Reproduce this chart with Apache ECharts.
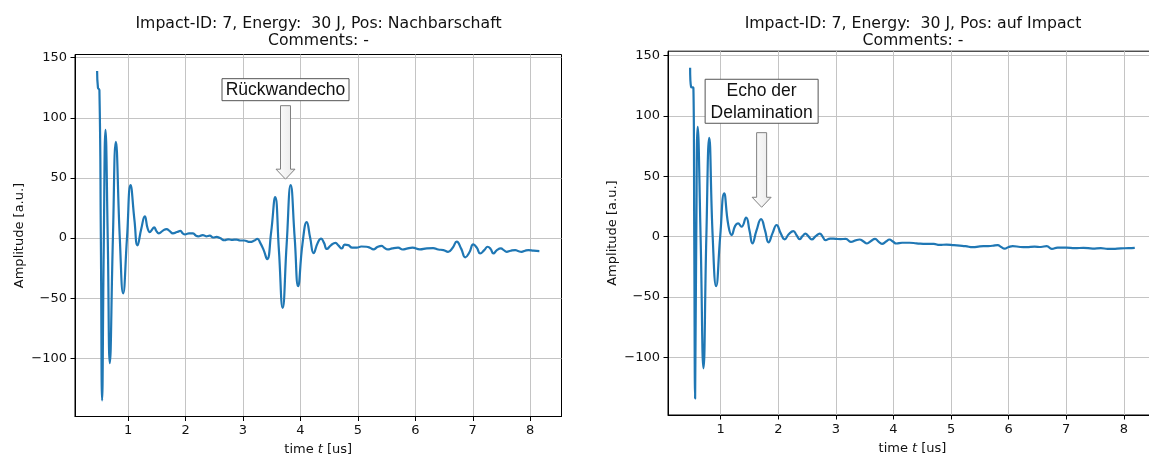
<!DOCTYPE html>
<html><head><meta charset="utf-8">
<script src="https://cdn.jsdelivr.net/npm/echarts@6/dist/echarts.min.js"></script>
<style>html,body{margin:0;padding:0;background:#fff;}#c{width:1149px;height:459px;}</style>
</head><body><div id="c"></div>
<script>
// ---- data ----
const timeLeft = [0.46,0.475,0.5,0.525,0.547,0.575,0.606,0.645,0.681,0.735,0.786,0.855,0.913,0.98,1.042,1.11,1.163,1.23,1.29,1.34,1.378,1.415,1.453,1.49,1.535,1.6,1.67,1.72,1.78,1.85,1.91,1.95,1.99,2.06,2.13,2.18,2.22,2.3,2.36,2.42,2.48,2.54,2.6,2.68,2.74,2.8,2.89,2.95,3.02,3.12,3.2,3.25,3.3,3.36,3.42,3.49,3.56,3.625,3.69,3.76,3.83,3.9,3.96,4.035,4.11,4.17,4.23,4.3,4.36,4.41,4.46,4.53,4.61,4.66,4.72,4.77,4.83,4.9,4.98,5.06,5.15,5.21,5.27,5.34,5.41,5.46,5.52,5.6,5.7,5.78,5.85,5.95,6.08,6.2,6.31,6.4,6.49,6.57,6.65,6.72,6.8,6.87,6.94,7.01,7.07,7.13,7.2,7.26,7.31,7.36,7.42,7.49,7.54,7.59,7.66,7.74,7.8,7.85,7.91,7.97,8.06,8.16];
const ampLeft = [139,125,123,0,-135,-10,90,0,-104,0,80,0,-46,0,44,15,-6,8,18,8,5,7,9,6,4,6,7.5,6,3.9,5,6,4,3,4,4,2,1.4,2.5,1.5,2,0.5,1,0,-1.8,-1,-1.5,-1.2,-2,-2,-3.2,-2,-0.6,-4,-10,-17.5,5,34,-10,-58,-5,44,0,-40,-5,13.3,0,-12.5,-4,-0.5,-4,-9,-6,-4,-6,-8.6,-5.5,-5.8,-8,-8,-7,-7.2,-8,-9.4,-7.5,-6.4,-8,-9.4,-8.5,-8,-9.5,-8.8,-8,-9.4,-8.5,-8.3,-9.5,-10,-11.4,-8,-3,-9,-16,-12,-5.3,-8,-12.8,-10,-7.2,-9,-12.8,-10,-8.6,-10,-11.4,-10.5,-10,-11,-11.4,-10.5,-10,-10.5,-10.8];
const timeRight = [0.468,0.485,0.525,0.54,0.555,0.575,0.6,0.65,0.7,0.75,0.8,0.86,0.92,0.99,1.06,1.13,1.19,1.25,1.3,1.36,1.44,1.5,1.55,1.62,1.7,1.77,1.83,1.9,1.97,2.04,2.11,2.18,2.26,2.32,2.37,2.42,2.47,2.52,2.58,2.65,2.72,2.77,2.82,2.9,3.0,3.08,3.17,3.26,3.34,3.41,3.48,3.54,3.61,3.68,3.74,3.8,3.87,3.93,3.99,4.05,4.15,4.28,4.4,4.57,4.7,4.8,4.92,5.05,5.15,5.25,5.38,5.5,5.61,5.72,5.81,5.87,5.93,6.0,6.07,6.2,6.31,6.45,6.56,6.66,6.75,6.85,7.0,7.15,7.3,7.46,7.6,7.72,7.81,7.95,8.08,8.19];
const ampRight = [140,124,123.5,0,-134,0,91,0,-109,0,82,0,-41,0,36,10,1.4,9,11,8.3,15.8,5,-5.5,5,14.6,5,-4.7,3,9.7,3,-2.2,2,4.7,1,-2,0.5,2.6,0.5,-2.2,0.5,2.6,0,-2.9,-1.5,-1.8,-2,-1.8,-4.3,-3,-2.3,-4,-5.6,-3.5,-1.8,-4,-6,-4,-2.3,-4,-5.6,-5,-5,-5.5,-6,-6,-6.8,-6.5,-7,-7.4,-7.8,-8.7,-8,-7.8,-7.5,-7,-8.5,-9.8,-8.5,-7.8,-8.5,-8.7,-8.2,-8.5,-7.8,-10,-9,-9,-9.5,-9.2,-9.8,-9.5,-10,-10,-9.6,-9.5,-9.2];
const xTicks = [1,2,3,4,5,6,7,8];
const yTicks = [-100,-50,0,50,100,150];
const titleLeft = 'Impact-ID: 7, Energy:  30 J, Pos: Nachbarschaft';
const titleRight = 'Impact-ID: 7, Energy:  30 J, Pos: auf Impact';
const commentLine = 'Comments: -';
const yName = 'Amplitude [a.u.]';
const annoTexts = ['Rückwandecho', 'Echo der\nDelamination'];
const annoTipX = [3.74, 1.71];
const annoTipY = [49, 24.4];

// ---- chart ----
const FONT = 'DejaVu Sans';
const chart = echarts.init(document.getElementById('c'), null, {renderer: 'canvas'});
const pairs = (t, a) => t.map((v, i) => [v, a[i]]);
const fmtY = v => String(v).replace('-', '\u2212');

function xAxis(gi, min, max) {
  return {
    type: 'value', gridIndex: gi, min: min, max: max,
    axisLine: {show: true, onZero: false, lineStyle: {color: '#000', width: 1}},
    axisTick: {show: true, customValues: xTicks, length: 4.5, lineStyle: {color: '#000', width: 1}},
    axisLabel: {customValues: xTicks, margin: 8, color: '#111', fontFamily: FONT, fontSize: 13},
    splitLine: {show: true, lineStyle: {color: '#c4c4c4', width: 1}},
    name: '{n|time }{i|t}{n| [us]}', nameLocation: 'middle', nameGap: 27,
    nameTextStyle: {rich: {
      n: {fontFamily: FONT, fontSize: 13, color: '#111'},
      i: {fontFamily: FONT, fontSize: 13, fontStyle: 'italic', color: '#111'}
    }}
  };
}
function yAxis(gi, min, max) {
  return {
    type: 'value', gridIndex: gi, min: min, max: max,
    axisLine: {show: true, onZero: false, lineStyle: {color: '#000', width: 1}},
    axisTick: {show: true, customValues: yTicks, length: 4.5, lineStyle: {color: '#000', width: 1}},
    axisLabel: {customValues: yTicks, margin: 8, color: '#111', fontFamily: FONT, fontSize: 13, formatter: fmtY},
    splitLine: {show: true, lineStyle: {color: '#c4c4c4', width: 1}},
    name: yName, nameLocation: 'middle', nameGap: 49,
    nameTextStyle: {fontFamily: FONT, fontSize: 13, color: '#111'}
  };
}
function lineSeries(gi, t, a) {
  return {
    type: 'line', xAxisIndex: gi, yAxisIndex: gi, data: pairs(t, a),
    showSymbol: false, smooth: 0.5, lineStyle: {color: '#1f77b4', width: 2.2}, animation: false
  };
}

chart.setOption({
  animation: false,
  title: [
    {text: titleLeft + '\n' + commentLine, left: 313.5, top: 10, textAlign: 'center',
     textStyle: {fontFamily: FONT, fontSize: 15.7, fontWeight: 'normal', color: '#111', lineHeight: 17}},
    {text: titleRight + '\n' + commentLine, left: 908, top: 10, textAlign: 'center',
     textStyle: {fontFamily: FONT, fontSize: 15.7, fontWeight: 'normal', color: '#111', lineHeight: 17}}
  ],
  grid: [
    {left: 75, width: 486.5, top: 54.5, height: 362, show: true, borderColor: '#000', borderWidth: 1,
     containLabel: false, outerBoundsMode: 'none'},
    {left: 668, width: 489, top: 51.2, height: 363.8, show: true, borderColor: '#000', borderWidth: 1,
     containLabel: false, outerBoundsMode: 'none'}
  ],
  xAxis: [xAxis(0, 0.075, 8.545), xAxis(1, 0.084, 8.576)],
  yAxis: [yAxis(0, -148.4, 152.7), yAxis(1, -147.7, 153.7)],
  series: [lineSeries(0, timeLeft, ampLeft), lineSeries(1, timeRight, ampRight)]
});

// annotations (anchored in data coordinates)
const boxSize = [[127, 22], [113, 44]];
const boxGap = [78.5, 84];
const graphics = [];
for (let k = 0; k < 2; k++) {
  const p = chart.convertToPixel({gridIndex: k}, [annoTipX[k], annoTipY[k]]);
  const tx = p[0], ty = p[1];
  const shaftTop = ty - (k === 0 ? 73.5 : 74.6);
  graphics.push({
    type: 'polygon', z: 100,
    shape: {points: [[tx - 5, shaftTop], [tx + 5, shaftTop], [tx + 5, ty - 10], [tx + 9.5, ty - 10], [tx, ty], [tx - 9.5, ty - 10], [tx - 5, ty - 10]]},
    style: {fill: new echarts.graphic.LinearGradient(0, 0, 1, 0, [{offset: 0, color: '#ffffff'}, {offset: 1, color: '#e8e8e8'}]), stroke: '#808080', lineWidth: 1}
  });
  const bw = boxSize[k][0], bh = boxSize[k][1];
  const by = ty - boxGap[k] - bh;
  graphics.push({
    type: 'rect', z: 100,
    shape: {x: tx - bw / 2, y: by, width: bw, height: bh},
    style: {fill: '#fff', stroke: '#555', lineWidth: 1}
  });
  graphics.push({
    type: 'text', z: 101,
    style: {text: annoTexts[k], x: tx, y: by + bh / 2 + 0.5, align: 'center', verticalAlign: 'middle',
            fontFamily: 'Liberation Sans', fontSize: 17.5, lineHeight: 22, fill: '#111'}
  });
}
chart.setOption({graphic: graphics});
</script>
</body></html>
